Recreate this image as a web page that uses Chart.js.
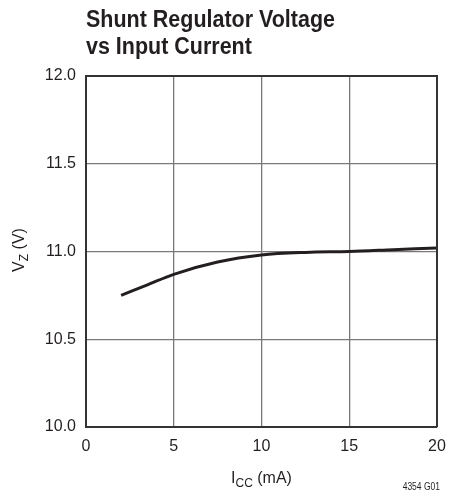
<!DOCTYPE html>
<html>
<head>
<meta charset="utf-8">
<script src="https://cdn.jsdelivr.net/npm/chart.js@4/dist/chart.umd.min.js"></script>
<style>
  html, body { margin: 0; padding: 0; background: #fff; }
  #wrap { width: 450px; height: 497px; position: relative; }
</style>
</head>
<body>
<div id="wrap"><canvas id="myChart"></canvas></div>
<script>
// curve
let iccValues = [2, 3.5, 5, 7.5, 10, 12.5, 15, 17.5, 20];
let vzValues = [10.75, 10.81, 10.87, 10.94, 10.98, 10.995, 11.0, 11.01, 11.02];
let xTicks = [0, 5, 10, 15, 20];
let yTicks = [10.0, 10.5, 11.0, 11.5, 12.0];
let titleLines = ['Shunt Regulator Voltage', 'vs Input Current'];

let labelFont = "'Liberation Sans', Arial, sans-serif";

// squeeze text horizontally to mimic the condensed face
function narrowText(ctx, text, x, y, squeeze) {
    ctx.save();
    ctx.translate(x, y);
    ctx.scale(squeeze, 1);
    ctx.fillText(text, 0, 0);
    ctx.restore();
}

// title, axis titles with subscripts, figure number, frame
let textPlugin = {
    id: 'texts',
    afterDraw(chart) {
        let ctx = chart.ctx;
        let area = chart.chartArea;
        ctx.save();

        ctx.strokeStyle = '#333';
        ctx.lineWidth = 2;
        ctx.beginPath();
        ctx.moveTo(area.left, area.top);
        ctx.lineTo(area.right, area.top);
        ctx.lineTo(area.right, area.bottom);
        ctx.stroke();

        ctx.fillStyle = '#231f20';
        ctx.textBaseline = 'alphabetic';
        ctx.textAlign = 'left';

        ctx.font = 'bold 23px ' + labelFont;
        let tw = ctx.measureText(titleLines[0]).width;
        let sq = 249 / tw;
        narrowText(ctx, titleLines[0], area.left, 27, sq);
        narrowText(ctx, titleLines[1], area.left, 54, sq);

        // x axis title: I_CC (mA)
        let cx = (area.left + area.right) / 2;
        ctx.font = '16px ' + labelFont;
        let w1 = ctx.measureText('I').width;
        let w3 = ctx.measureText(' (mA)').width;
        ctx.font = '12px ' + labelFont;
        let w2 = ctx.measureText('CC').width;
        let x0 = cx - (w1 + w2 + w3) / 2;
        ctx.font = '16px ' + labelFont;
        ctx.fillText('I', x0, 483);
        ctx.fillText(' (mA)', x0 + w1 + w2, 483);
        ctx.font = '12px ' + labelFont;
        ctx.fillText('CC', x0 + w1, 487);

        // y axis title: V_Z (V)
        ctx.save();
        ctx.translate(24, 250);
        ctx.rotate(-Math.PI / 2);
        ctx.font = '16px ' + labelFont;
        let v1 = ctx.measureText('V').width;
        let v3 = ctx.measureText(' (V)').width;
        ctx.font = '12px ' + labelFont;
        let v2 = ctx.measureText('Z').width;
        let y0 = -(v1 + v2 + v3) / 2;
        ctx.font = '16px ' + labelFont;
        ctx.fillText('V', y0, 0);
        ctx.fillText(' (V)', y0 + v1 + v2, 0);
        ctx.font = '12px ' + labelFont;
        ctx.fillText('Z', y0 + v1, 4);
        ctx.restore();

        ctx.font = '10px ' + labelFont;
        let fw = ctx.measureText('4354 G01').width * 0.85;
        narrowText(ctx, '4354 G01', 440 - fw, 490, 0.85);
        ctx.restore();
    }
};

let myChart = document.getElementById('myChart').getContext('2d');

let chart = new Chart(myChart, {
    type: 'line',
    data: {
        datasets: [{
            data: iccValues.map((x, i) => ({ x: x, y: vzValues[i] })),
            borderColor: '#231f20',
            borderWidth: 3,
            pointRadius: 0,
            cubicInterpolationMode: 'monotone',
            fill: false
        }]
    },
    options: {
        responsive: true,
        maintainAspectRatio: false,
        animation: false,
        layout: {
            padding: { left: 0, top: 76, right: 13, bottom: 40 }
        },
        plugins: {
            legend: { display: false },
            title: { display: false },
            tooltip: { enabled: false }
        },
        scales: {
            x: {
                type: 'linear',
                min: 0,
                max: 20,
                afterBuildTicks: (scale) => { scale.ticks = xTicks.map(v => ({ value: v })); },
                afterFit: (scale) => {
                    scale.height = 30;
                    scale.paddingLeft = 0;
                    scale.paddingRight = 0;
                },
                ticks: {
                    color: '#231f20',
                    font: { family: labelFont, size: 16 },
                    padding: 10,
                    maxRotation: 0
                },
                grid: { color: '#7a7a7a', lineWidth: 1.3, drawTicks: false },
                border: { color: '#333', width: 2 }
            },
            y: {
                min: 10,
                max: 12,
                afterBuildTicks: (scale) => { scale.ticks = yTicks.map(v => ({ value: v })); },
                afterFit: (scale) => {
                    scale.width = 86;
                    scale.paddingTop = 0;
                    scale.paddingBottom = 0;
                },
                ticks: {
                    color: '#231f20',
                    font: { family: labelFont, size: 16 },
                    padding: 10,
                    callback: (v) => v.toFixed(1)
                },
                grid: { color: '#7a7a7a', lineWidth: 1.3, drawTicks: false },
                border: { color: '#333', width: 2 }
            }
        }
    },
    plugins: [textPlugin]
});
</script>
</body>
</html>
